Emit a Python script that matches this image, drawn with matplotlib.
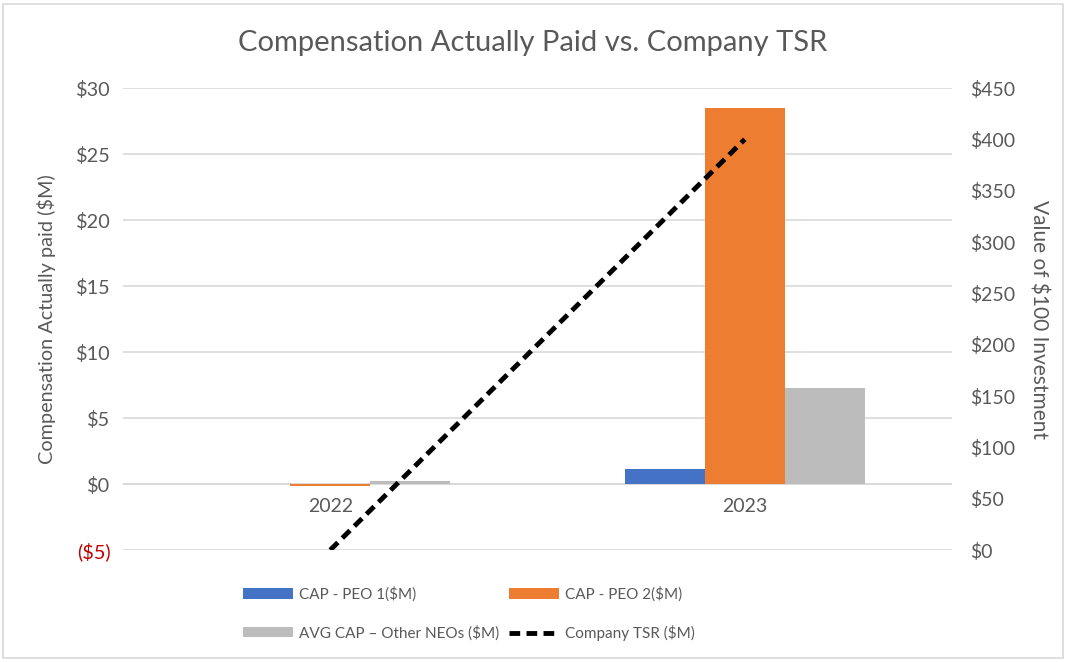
import matplotlib
matplotlib.use("Agg")
import matplotlib.pyplot as plt
from matplotlib.patches import Rectangle
import numpy as np

years = ["2022", "2023"]
cap_peo1 = [0.0, 1.15]
cap_peo2 = [-0.18, 28.5]
avg_cap_neo = [0.2, 7.3]
tsr = [0, 400]

left_ticks = [-5, 0, 5, 10, 15, 20, 25, 30]
left_labels = ["($5)", "$0", "$5", "$10", "$15", "$20", "$25", "$30"]
right_ticks = [0, 50, 100, 150, 200, 250, 300, 350, 400, 450]
right_labels = ["$" + str(v) for v in right_ticks]

plt.rcParams['font.family'] = ['Lato', 'DejaVu Sans']
gray = "#595959"

fig = plt.figure(figsize=(10.66, 6.62), dpi=100)
fig.patches.append(Rectangle((0.003, 0.006), 0.994, 0.988, transform=fig.transFigure,
                             fill=False, edgecolor="#d9d9d9", linewidth=1.2))

ax = fig.add_axes([123/1066, 1-550/662, (952-123)/1066, (550-88)/662])
ax.spines['bottom'].set_position(('data', 0))
x = np.arange(len(years))
w = 0.193
ax.bar(x - w, cap_peo1, w, color="#4472C4", label="CAP - PEO 1($M)", zorder=3)
ax.bar(x, cap_peo2, w, color="#ED7D31", label="CAP - PEO 2($M)", zorder=3)
ax.bar(x + w, avg_cap_neo, w, color="#BBBCBB", label="AVG CAP \u2013 Other NEOs ($M)", zorder=3)

ax.set_xlim(-0.5, 1.5)
ax.set_ylim(-5, 30)
ax.set_yticks(left_ticks)
ax.set_yticklabels(left_labels, fontsize=14.3, color=gray)
ax.get_yticklabels()[0].set_color("#C00000")
ax.set_xticks(x)
ax.set_xticklabels(years, fontsize=14, color=gray)
ax.tick_params(axis='both', length=0)
ax.tick_params(axis='y', pad=9)
ax.tick_params(axis='x', pad=10)
ax.yaxis.grid(True, color="#d9d9d9", linewidth=1.2, zorder=0)
ax.axhline(0, color="#d9d9d9", linewidth=1.2, zorder=1)
for s in ax.spines.values():
    s.set_visible(False)
ax.set_ylabel("Compensation Actually paid ($M)", fontsize=14.3, color=gray, labelpad=14)

ax2 = ax.twinx()
ax2.plot(x, tsr, color="black", linestyle=(0, (2.2, 1.3)), linewidth=3.5,
         label="Company TSR ($M)", zorder=4, solid_capstyle='butt')
ax2.set_ylim(0, 450)
ax2.set_yticks(right_ticks)
ax2.set_yticklabels(right_labels, fontsize=14, color=gray)
ax2.tick_params(axis='y', length=0, pad=13)
for s in ax2.spines.values():
    s.set_visible(False)
ax2.set_ylabel("Value of $100 Investment", fontsize=15, color=gray, rotation=-90, labelpad=24)

fig.suptitle("Compensation Actually Paid vs. Company TSR", fontsize=21, color=gray, y=0.955)

h1, l1 = ax.get_legend_handles_labels()
h2, l2 = ax2.get_legend_handles_labels()
handles = [h1[0], h1[2], h1[1], h2[0]]
labels = [l1[0], l1[2], l1[1], l2[0]]
fig.legend(handles, labels, ncol=2, loc="center", bbox_to_anchor=(0.44, 1-614/662),
           frameon=False, fontsize=11, labelcolor=gray, handlelength=3.3,
           handleheight=0.7, columnspacing=0.6, labelspacing=1.5, handletextpad=0.4,
           borderpad=0)

fig.savefig("out.png", dpi=100)
